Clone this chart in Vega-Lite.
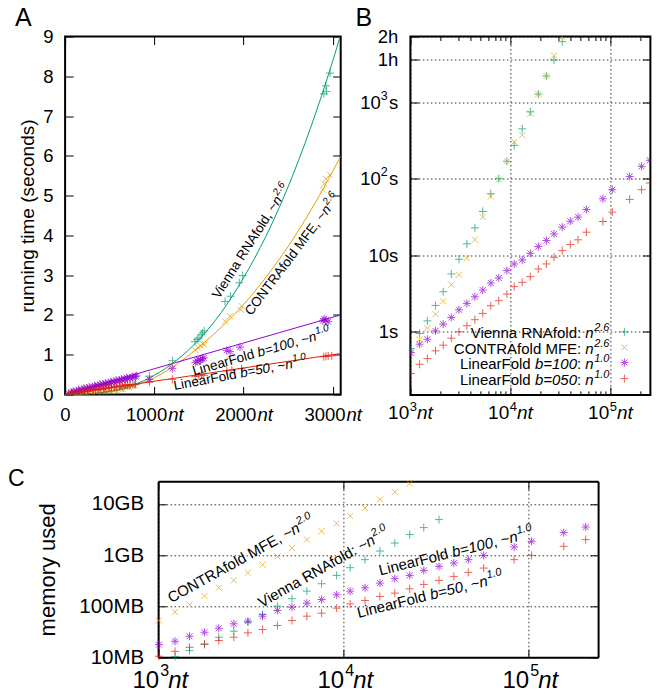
{
"$schema":"https://vega.github.io/schema/vega-lite/v6.json",
"autosize":{"type":"none"},
"padding":{"left":65.1,"top":36.5,"right":597,"bottom":659},
"config":{
 "font":"Liberation Sans",
 "view":{"stroke":"#000","strokeWidth":2},
 "axis":{"domain":false,"ticks":false,"grid":false,"labelColor":"#000","titleColor":"#000","labelFont":"Liberation Sans","titleFont":"Liberation Sans","titleFontWeight":"normal","labelFlush":false,"labelOverlap":false,"labelBound":false,"tickColor":"#000","tickWidth":1,"gridColor":"#000","gridDash":[1.5,2.5],"gridWidth":1,"gridOpacity":0.8,"domainColor":"#000","domainWidth":2},
 "title":{"fontWeight":"normal","color":"#000","font":"Liberation Sans","anchor":"start","frame":"group","baseline":"alphabetic"},
 "text":{"font":"Liberation Sans","color":"#000"},
 "point":{"filled":false,"strokeWidth":1,"size":64},
 "line":{"strokeWidth":1}
},
"columns":2,
"align":"none",
"bounds":"flush",
"spacing":{"row":85.8,"column":69.3},
"concat":[
{
 "width":275.6,"height":358,
 "title":{"text":"A","dx":-50,"offset":-3.5,"fontSize":25},
 "resolve":{"axis":{"x":"independent","y":"independent"}},
 "layer":[
  {"data":{"values":[
   {"s":"V","n":0,"t":0},{"s":"V","n":250,"t":0.013},{"s":"V","n":500,"t":0.079},{"s":"V","n":750,"t":0.228},{"s":"V","n":1000,"t":0.482},{"s":"V","n":1250,"t":0.86},{"s":"V","n":1500,"t":1.38},{"s":"V","n":1750,"t":2.06},{"s":"V","n":2000,"t":2.93},{"s":"V","n":2250,"t":3.97},{"s":"V","n":2500,"t":5.22},{"s":"V","n":2750,"t":6.69},{"s":"V","n":3000,"t":8.38},{"s":"V","n":3090,"t":9.05},
   {"s":"C","n":0,"t":0},{"s":"C","n":250,"t":0.012},{"s":"C","n":500,"t":0.07},{"s":"C","n":750,"t":0.2},{"s":"C","n":1000,"t":0.42},{"s":"C","n":1250,"t":0.76},{"s":"C","n":1500,"t":1.19},{"s":"C","n":1750,"t":1.69},{"s":"C","n":2000,"t":2.26},{"s":"C","n":2250,"t":2.94},{"s":"C","n":2500,"t":3.72},{"s":"C","n":2750,"t":4.61},{"s":"C","n":3000,"t":5.61},{"s":"C","n":3090,"t":5.99},
   {"s":"L100","n":0,"t":0},{"s":"L100","n":3090,"t":2.0},
   {"s":"L50","n":0,"t":0},{"s":"L50","n":3090,"t":1.03}
  ]},
  "mark":{"type":"line","clip":true,"interpolate":"monotone","strokeWidth":1},
  "encoding":{
   "x":{"field":"n","type":"quantitative","scale":{"domain":[0,3090],"nice":false,"zero":false},"axis":{"orient":"bottom","values":[0,1000,2000,3000],"format":"d","labelAlign":"right","labelOffset":{"condition":{"test":"datum.value === 0","value":5},"value":12.4},"labelFontSize":18.5,"labelPadding":11,"title":null}},
   "y":{"field":"t","type":"quantitative","scale":{"domain":[0,9],"nice":false,"zero":false},"axis":{"orient":"left","values":[0,1,2,3,4,5,6,7,8,9],"format":"d","labelFontSize":18.5,"labelPadding":12,"title":"running time (seconds)","titleFontSize":19,"titlePadding":5.8}},
   "color":{"field":"s","type":"nominal","scale":{"domain":["V","C","L100","L50"],"range":["#009e73","#e69f00","#9400d3","#e51e10"]},"legend":null}
  }},
  {"data":{"values":[
   {"s":"V","n":60,"t":0.0},{"s":"V","n":120,"t":0.002},{"s":"V","n":180,"t":0.006},{"s":"V","n":250,"t":0.013},{"s":"V","n":320,"t":0.026},{"s":"V","n":380,"t":0.039},{"s":"V","n":450,"t":0.06},{"s":"V","n":520,"t":0.09},{"s":"V","n":580,"t":0.115},{"s":"V","n":650,"t":0.16},{"s":"V","n":720,"t":0.21},{"s":"V","n":780,"t":0.25},{"s":"V","n":945,"t":0.46},{"s":"V","n":1205,"t":0.85},{"s":"V","n":1455,"t":1.33},{"s":"V","n":1480,"t":1.38},{"s":"V","n":1500,"t":1.42},{"s":"V","n":1525,"t":1.5},{"s":"V","n":1540,"t":1.55},{"s":"V","n":1560,"t":1.6},{"s":"V","n":1793,"t":2.34},{"s":"V","n":1856,"t":2.47},{"s":"V","n":1953,"t":2.81},{"s":"V","n":1991,"t":2.99},{"s":"V","n":2902,"t":7.56},{"s":"V","n":2925,"t":7.76},{"s":"V","n":2930,"t":7.62},{"s":"V","n":2970,"t":8.08},
   {"s":"C","n":60,"t":0.0},{"s":"C","n":120,"t":0.002},{"s":"C","n":180,"t":0.005},{"s":"C","n":250,"t":0.011},{"s":"C","n":320,"t":0.022},{"s":"C","n":380,"t":0.033},{"s":"C","n":450,"t":0.05},{"s":"C","n":520,"t":0.075},{"s":"C","n":580,"t":0.1},{"s":"C","n":650,"t":0.135},{"s":"C","n":720,"t":0.18},{"s":"C","n":780,"t":0.22},{"s":"C","n":945,"t":0.4},{"s":"C","n":1200,"t":0.74},{"s":"C","n":1460,"t":1.12},{"s":"C","n":1490,"t":1.18},{"s":"C","n":1520,"t":1.22},{"s":"C","n":1545,"t":1.28},{"s":"C","n":1560,"t":1.25},{"s":"C","n":1793,"t":1.84},{"s":"C","n":1849,"t":1.97},{"s":"C","n":1970,"t":2.13},{"s":"C","n":1980,"t":2.22},{"s":"C","n":2890,"t":5.15},{"s":"C","n":2905,"t":5.3},{"s":"C","n":2925,"t":5.42},{"s":"C","n":2970,"t":5.52},
   {"s":"L100","n":40,"t":0.03},{"s":"L100","n":70,"t":0.05},{"s":"L100","n":100,"t":0.06},{"s":"L100","n":130,"t":0.08},{"s":"L100","n":160,"t":0.1},{"s":"L100","n":190,"t":0.11},{"s":"L100","n":220,"t":0.13},{"s":"L100","n":250,"t":0.15},{"s":"L100","n":280,"t":0.16},{"s":"L100","n":310,"t":0.18},{"s":"L100","n":340,"t":0.2},{"s":"L100","n":370,"t":0.21},{"s":"L100","n":400,"t":0.23},{"s":"L100","n":430,"t":0.25},{"s":"L100","n":460,"t":0.26},{"s":"L100","n":490,"t":0.28},{"s":"L100","n":520,"t":0.3},{"s":"L100","n":550,"t":0.31},{"s":"L100","n":580,"t":0.33},{"s":"L100","n":610,"t":0.35},{"s":"L100","n":640,"t":0.36},{"s":"L100","n":670,"t":0.38},{"s":"L100","n":700,"t":0.4},{"s":"L100","n":730,"t":0.41},{"s":"L100","n":760,"t":0.43},{"s":"L100","n":790,"t":0.45},
   {"s":"L100","n":90,"t":0.08},{"s":"L100","n":150,"t":0.12},{"s":"L100","n":210,"t":0.16},{"s":"L100","n":270,"t":0.19},{"s":"L100","n":330,"t":0.22},{"s":"L100","n":390,"t":0.26},{"s":"L100","n":450,"t":0.29},{"s":"L100","n":510,"t":0.32},{"s":"L100","n":570,"t":0.36},{"s":"L100","n":630,"t":0.39},{"s":"L100","n":690,"t":0.42},{"s":"L100","n":750,"t":0.45},{"s":"L100","n":800,"t":0.47},
   {"s":"L100","n":945,"t":0.38},{"s":"L100","n":1202,"t":0.65},{"s":"L100","n":1460,"t":0.8},{"s":"L100","n":1480,"t":0.84},{"s":"L100","n":1500,"t":0.87},{"s":"L100","n":1520,"t":0.86},{"s":"L100","n":1540,"t":0.9},{"s":"L100","n":1555,"t":0.92},{"s":"L100","n":1812,"t":1.11},{"s":"L100","n":1850,"t":1.08},{"s":"L100","n":1961,"t":1.19},{"s":"L100","n":2890,"t":1.85},{"s":"L100","n":2905,"t":1.9},{"s":"L100","n":2925,"t":1.87},{"s":"L100","n":2950,"t":1.83},
   {"s":"L50","n":40,"t":0.01},{"s":"L50","n":70,"t":0.02},{"s":"L50","n":100,"t":0.03},{"s":"L50","n":130,"t":0.04},{"s":"L50","n":160,"t":0.05},{"s":"L50","n":190,"t":0.06},{"s":"L50","n":220,"t":0.07},{"s":"L50","n":250,"t":0.08},{"s":"L50","n":280,"t":0.09},{"s":"L50","n":310,"t":0.1},{"s":"L50","n":340,"t":0.11},{"s":"L50","n":370,"t":0.12},{"s":"L50","n":400,"t":0.13},{"s":"L50","n":430,"t":0.14},{"s":"L50","n":460,"t":0.15},{"s":"L50","n":490,"t":0.16},{"s":"L50","n":520,"t":0.17},{"s":"L50","n":550,"t":0.18},{"s":"L50","n":580,"t":0.19},{"s":"L50","n":610,"t":0.2},{"s":"L50","n":640,"t":0.21},{"s":"L50","n":670,"t":0.22},{"s":"L50","n":700,"t":0.23},{"s":"L50","n":730,"t":0.24},{"s":"L50","n":760,"t":0.25},{"s":"L50","n":790,"t":0.26},
   {"s":"L50","n":80,"t":0.04},{"s":"L50","n":140,"t":0.06},{"s":"L50","n":200,"t":0.09},{"s":"L50","n":260,"t":0.11},{"s":"L50","n":320,"t":0.13},{"s":"L50","n":380,"t":0.15},{"s":"L50","n":440,"t":0.17},{"s":"L50","n":500,"t":0.19},{"s":"L50","n":560,"t":0.21},{"s":"L50","n":620,"t":0.23},{"s":"L50","n":680,"t":0.25},
   {"s":"L50","n":945,"t":0.31},{"s":"L50","n":1202,"t":0.38},{"s":"L50","n":1460,"t":0.45},{"s":"L50","n":1500,"t":0.47},{"s":"L50","n":1530,"t":0.5},{"s":"L50","n":1555,"t":0.48},{"s":"L50","n":1812,"t":0.6},{"s":"L50","n":1870,"t":0.61},{"s":"L50","n":1978,"t":0.65},{"s":"L50","n":2900,"t":0.95},{"s":"L50","n":2925,"t":0.96},{"s":"L50","n":2950,"t":0.97},{"s":"L50","n":2990,"t":0.97}
  ]},
  "mark":{"type":"point","clip":true},
  "encoding":{
   "x":{"field":"n","type":"quantitative","scale":{"domain":[0,3090],"nice":false,"zero":false},"axis":null},
   "y":{"field":"t","type":"quantitative","scale":{"domain":[0,9],"nice":false,"zero":false},"axis":null},
   "color":{"field":"s","type":"nominal","scale":{"domain":["V","C","L100","L50"],"range":["#009e73","#e69f00","#9400d3","#e51e10"]},"legend":null},
   "shape":{"field":"s","type":"nominal","scale":{"domain":["V","C","L100","L50"],"range":["M-1,0L1,0M0,-1L0,1","M-0.75,-0.75L0.75,0.75M-0.75,0.75L0.75,-0.75","M-1,0L1,0M0,-1L0,1M-0.75,-0.75L0.75,0.75M-0.75,0.75L0.75,-0.75","M-1,0L1,0M0,-1L0,1"]},"legend":null}
  }},
  {"data":{"values":[]},"mark":"point","encoding":{"x":{"field":"n","type":"quantitative","scale":{"domain":[0,3090],"nice":false,"zero":false},"axis":{"orient":"bottom","values":[1000,2000,3000],"labelExpr":"'nt'","labelAlign":"left","labelOffset":13.4,"labelFontStyle":"italic","labelFontSize":18.5,"labelPadding":11,"title":null}},"y":{"field":"t","type":"quantitative","scale":{"domain":[0,9],"nice":false,"zero":false},"axis":null}}},
  {"data":{"values":[]},"mark":"point","encoding":{"x":{"field":"n","type":"quantitative","scale":{"domain":[0,3090],"nice":false,"zero":false},"axis":{"orient":"bottom","values":[0,1000,2000,3000],"ticks":true,"tickSize":-8,"labels":false,"title":null}},"y":{"field":"t","type":"quantitative","scale":{"domain":[0,9],"nice":false,"zero":false},"axis":null}}},
  {"data":{"values":[]},"mark":"point","encoding":{"x":{"field":"n","type":"quantitative","scale":{"domain":[0,3090],"nice":false,"zero":false},"axis":{"orient":"top","values":[0,1000,2000,3000],"ticks":true,"tickSize":-8,"labels":false,"title":null}},"y":{"field":"t","type":"quantitative","scale":{"domain":[0,9],"nice":false,"zero":false},"axis":null}}},
  {"data":{"values":[]},"mark":"point","encoding":{"y":{"field":"t","type":"quantitative","scale":{"domain":[0,9],"nice":false,"zero":false},"axis":{"orient":"left","values":[0,1,2,3,4,5,6,7,8,9],"ticks":true,"tickSize":-8,"labels":false,"title":null}},"x":{"field":"n","type":"quantitative","scale":{"domain":[0,3090],"nice":false,"zero":false},"axis":null}}},
  {"data":{"values":[]},"mark":"point","encoding":{"y":{"field":"t","type":"quantitative","scale":{"domain":[0,9],"nice":false,"zero":false},"axis":{"orient":"right","values":[0,1,2,3,4,5,6,7,8,9],"ticks":true,"tickSize":-8,"labels":false,"title":null}},"x":{"field":"n","type":"quantitative","scale":{"domain":[0,3090],"nice":false,"zero":false},"axis":null}}},
  {"data":{"values":[{"label":"Vienna RNAfold, ~"}]},"mark":{"type":"text","angle":-57.5,"align":"right","baseline":"alphabetic","fontSize":13.5,"dx":-7.5},"encoding":{"x":{"datum":2439,"type":"quantitative","scale":{"domain":[0,3090],"nice":false,"zero":false},"axis":null},"y":{"datum":4.9,"type":"quantitative","scale":{"domain":[0,9],"nice":false,"zero":false},"axis":null},"text":{"field":"label"}}},
  {"data":{"values":[{"label":"n"}]},"mark":{"type":"text","angle":-57.5,"align":"right","baseline":"alphabetic","fontSize":13.5,"fontStyle":"italic"},"encoding":{"x":{"datum":2439,"type":"quantitative","scale":{"domain":[0,3090],"nice":false,"zero":false},"axis":null},"y":{"datum":4.9,"type":"quantitative","scale":{"domain":[0,9],"nice":false,"zero":false},"axis":null},"text":{"field":"label"}}},
  {"data":{"values":[{"label":"2.6"}]},"mark":{"type":"text","angle":-57.5,"align":"left","baseline":"alphabetic","fontSize":10,"fontStyle":"italic","dx":0.5,"dy":-6},"encoding":{"x":{"datum":2439,"type":"quantitative","scale":{"domain":[0,3090],"nice":false,"zero":false},"axis":null},"y":{"datum":4.9,"type":"quantitative","scale":{"domain":[0,9],"nice":false,"zero":false},"axis":null},"text":{"field":"label"}}},
  {"data":{"values":[{"label":"CONTRAfold MFE, ~"}]},"mark":{"type":"text","angle":-53,"align":"right","baseline":"alphabetic","fontSize":13.5,"dx":-7.5},"encoding":{"x":{"datum":2989,"type":"quantitative","scale":{"domain":[0,3090],"nice":false,"zero":false},"axis":null},"y":{"datum":4.65,"type":"quantitative","scale":{"domain":[0,9],"nice":false,"zero":false},"axis":null},"text":{"field":"label"}}},
  {"data":{"values":[{"label":"n"}]},"mark":{"type":"text","angle":-53,"align":"right","baseline":"alphabetic","fontSize":13.5,"fontStyle":"italic"},"encoding":{"x":{"datum":2989,"type":"quantitative","scale":{"domain":[0,3090],"nice":false,"zero":false},"axis":null},"y":{"datum":4.65,"type":"quantitative","scale":{"domain":[0,9],"nice":false,"zero":false},"axis":null},"text":{"field":"label"}}},
  {"data":{"values":[{"label":"2.6"}]},"mark":{"type":"text","angle":-53,"align":"left","baseline":"alphabetic","fontSize":10,"fontStyle":"italic","dx":0.5,"dy":-6},"encoding":{"x":{"datum":2989,"type":"quantitative","scale":{"domain":[0,3090],"nice":false,"zero":false},"axis":null},"y":{"datum":4.65,"type":"quantitative","scale":{"domain":[0,9],"nice":false,"zero":false},"axis":null},"text":{"field":"label"}}},
  {"data":{"values":[{"label":"LinearFold"}]},"mark":{"type":"text","angle":-16,"align":"right","baseline":"alphabetic","fontSize":13.5,"dx":-64.6},"encoding":{"x":{"datum":2827,"type":"quantitative","scale":{"domain":[0,3090],"nice":false,"zero":false},"axis":null},"y":{"datum":1.364,"type":"quantitative","scale":{"domain":[0,9],"nice":false,"zero":false},"axis":null},"text":{"field":"label"}}},
  {"data":{"values":[{"label":"b=100"}]},"mark":{"type":"text","angle":-16,"align":"right","baseline":"alphabetic","fontSize":13.5,"fontStyle":"italic","dx":-22.9},"encoding":{"x":{"datum":2827,"type":"quantitative","scale":{"domain":[0,3090],"nice":false,"zero":false},"axis":null},"y":{"datum":1.364,"type":"quantitative","scale":{"domain":[0,9],"nice":false,"zero":false},"axis":null},"text":{"field":"label"}}},
  {"data":{"values":[{"label":", ~"}]},"mark":{"type":"text","angle":-16,"align":"right","baseline":"alphabetic","fontSize":13.5,"dx":-7.5},"encoding":{"x":{"datum":2827,"type":"quantitative","scale":{"domain":[0,3090],"nice":false,"zero":false},"axis":null},"y":{"datum":1.364,"type":"quantitative","scale":{"domain":[0,9],"nice":false,"zero":false},"axis":null},"text":{"field":"label"}}},
  {"data":{"values":[{"label":"n"}]},"mark":{"type":"text","angle":-16,"align":"right","baseline":"alphabetic","fontSize":13.5,"fontStyle":"italic"},"encoding":{"x":{"datum":2827,"type":"quantitative","scale":{"domain":[0,3090],"nice":false,"zero":false},"axis":null},"y":{"datum":1.364,"type":"quantitative","scale":{"domain":[0,9],"nice":false,"zero":false},"axis":null},"text":{"field":"label"}}},
  {"data":{"values":[{"label":"1.0"}]},"mark":{"type":"text","angle":-16,"align":"left","baseline":"alphabetic","fontSize":10,"fontStyle":"italic","dx":0.5,"dy":-6},"encoding":{"x":{"datum":2827,"type":"quantitative","scale":{"domain":[0,3090],"nice":false,"zero":false},"axis":null},"y":{"datum":1.364,"type":"quantitative","scale":{"domain":[0,9],"nice":false,"zero":false},"axis":null},"text":{"field":"label"}}},
  {"data":{"values":[{"label":"LinearFold"}]},"mark":{"type":"text","angle":-10.6,"align":"right","baseline":"alphabetic","fontSize":13.5,"dx":-57.1},"encoding":{"x":{"datum":2558,"type":"quantitative","scale":{"domain":[0,3090],"nice":false,"zero":false},"axis":null},"y":{"datum":0.67,"type":"quantitative","scale":{"domain":[0,9],"nice":false,"zero":false},"axis":null},"text":{"field":"label"}}},
  {"data":{"values":[{"label":"b=50"}]},"mark":{"type":"text","angle":-10.6,"align":"right","baseline":"alphabetic","fontSize":13.5,"fontStyle":"italic","dx":-22.9},"encoding":{"x":{"datum":2558,"type":"quantitative","scale":{"domain":[0,3090],"nice":false,"zero":false},"axis":null},"y":{"datum":0.67,"type":"quantitative","scale":{"domain":[0,9],"nice":false,"zero":false},"axis":null},"text":{"field":"label"}}},
  {"data":{"values":[{"label":", ~"}]},"mark":{"type":"text","angle":-10.6,"align":"right","baseline":"alphabetic","fontSize":13.5,"dx":-7.5},"encoding":{"x":{"datum":2558,"type":"quantitative","scale":{"domain":[0,3090],"nice":false,"zero":false},"axis":null},"y":{"datum":0.67,"type":"quantitative","scale":{"domain":[0,9],"nice":false,"zero":false},"axis":null},"text":{"field":"label"}}},
  {"data":{"values":[{"label":"n"}]},"mark":{"type":"text","angle":-10.6,"align":"right","baseline":"alphabetic","fontSize":13.5,"fontStyle":"italic"},"encoding":{"x":{"datum":2558,"type":"quantitative","scale":{"domain":[0,3090],"nice":false,"zero":false},"axis":null},"y":{"datum":0.67,"type":"quantitative","scale":{"domain":[0,9],"nice":false,"zero":false},"axis":null},"text":{"field":"label"}}},
  {"data":{"values":[{"label":"1.0"}]},"mark":{"type":"text","angle":-10.6,"align":"left","baseline":"alphabetic","fontSize":10,"fontStyle":"italic","dx":0.5,"dy":-6},"encoding":{"x":{"datum":2558,"type":"quantitative","scale":{"domain":[0,3090],"nice":false,"zero":false},"axis":null},"y":{"datum":0.67,"type":"quantitative","scale":{"domain":[0,9],"nice":false,"zero":false},"axis":null},"text":{"field":"label"}}}
 ]
},
{
 "width":240,"height":358.4,
 "title":{"text":"B","dx":-55,"offset":-3.5,"fontSize":25},
 "resolve":{"axis":{"x":"independent","y":"independent"}},
 "layer":[
  {"data":{"values":[
   {"s":"V","n":1010,"t":0.605},{"s":"V","n":1235,"t":0.95},{"s":"V","n":1478,"t":1.39},{"s":"V","n":1782,"t":2.21},{"s":"V","n":2128,"t":3.34},{"s":"V","n":2566,"t":5.7},{"s":"V","n":3059,"t":8.87},{"s":"V","n":3670,"t":14.1},{"s":"V","n":4414,"t":22.8},{"s":"V","n":5292,"t":37.3},{"s":"V","n":6371,"t":63.6},{"s":"V","n":7651,"t":100},{"s":"V","n":9230,"t":169},{"s":"V","n":10920,"t":271},{"s":"V","n":13135,"t":448},{"s":"V","n":15810,"t":747},{"s":"V","n":19030,"t":1273},{"s":"V","n":22910,"t":2191},{"s":"V","n":27295,"t":3550},{"s":"V","n":32990,"t":6170},
   {"s":"C","n":1010,"t":0.52},{"s":"C","n":1235,"t":0.8},{"s":"C","n":1478,"t":1.12},{"s":"C","n":1782,"t":1.7},{"s":"C","n":2128,"t":2.5},{"s":"C","n":2566,"t":4.13},{"s":"C","n":3059,"t":5.58},{"s":"C","n":3670,"t":9.14},{"s":"C","n":4414,"t":16.0},{"s":"C","n":5292,"t":31.5},{"s":"C","n":6371,"t":58.7},{"s":"C","n":7651,"t":98},{"s":"C","n":9230,"t":169},{"s":"C","n":10920,"t":302},{"s":"C","n":13135,"t":370},{"s":"C","n":15810,"t":711},{"s":"C","n":19030,"t":1273},{"s":"C","n":22910,"t":2191},{"s":"C","n":27295,"t":4045},{"s":"C","n":32990,"t":7150},
   {"s":"L100","n":1010,"t":0.536},{"s":"L100","n":1235,"t":0.69},{"s":"L100","n":1478,"t":0.8},{"s":"L100","n":1782,"t":1.03},{"s":"L100","n":2128,"t":1.26},{"s":"L100","n":2566,"t":1.54},{"s":"L100","n":3059,"t":1.94},{"s":"L100","n":3670,"t":2.35},{"s":"L100","n":4414,"t":2.87},{"s":"L100","n":5292,"t":3.51},{"s":"L100","n":6371,"t":4.34},{"s":"L100","n":7651,"t":5.05},{"s":"L100","n":9230,"t":6.3},{"s":"L100","n":10920,"t":7.7},{"s":"L100","n":13135,"t":8.69},{"s":"L100","n":15810,"t":10.6},{"s":"L100","n":19030,"t":13.0},{"s":"L100","n":22910,"t":15.6},{"s":"L100","n":27295,"t":19.0},{"s":"L100","n":32990,"t":23.3},{"s":"L100","n":39710,"t":27.9},{"s":"L100","n":47515,"t":31.5},{"s":"L100","n":57540,"t":39.6},{"s":"L100","n":84045,"t":54.7},{"s":"L100","n":104450,"t":71.8},{"s":"L100","n":155850,"t":107},{"s":"L100","n":204850,"t":145},{"s":"L100","n":247300,"t":174},
   {"s":"L50","n":1010,"t":0.285},{"s":"L50","n":1235,"t":0.377},{"s":"L50","n":1478,"t":0.447},{"s":"L50","n":1782,"t":0.564},{"s":"L50","n":2128,"t":0.669},{"s":"L50","n":2566,"t":0.826},{"s":"L50","n":3059,"t":1.0},{"s":"L50","n":3670,"t":1.2},{"s":"L50","n":4414,"t":1.44},{"s":"L50","n":5292,"t":1.74},{"s":"L50","n":6371,"t":2.19},{"s":"L50","n":7651,"t":2.55},{"s":"L50","n":9230,"t":3.11},{"s":"L50","n":10920,"t":3.89},{"s":"L50","n":13135,"t":4.43},{"s":"L50","n":15810,"t":5.26},{"s":"L50","n":19030,"t":6.62},{"s":"L50","n":22910,"t":7.7},{"s":"L50","n":27295,"t":9.41},{"s":"L50","n":32990,"t":11.5},{"s":"L50","n":39710,"t":13.8},{"s":"L50","n":47515,"t":15.9},{"s":"L50","n":57540,"t":20.0},{"s":"L50","n":84045,"t":27.6},{"s":"L50","n":104450,"t":36.6},{"s":"L50","n":155850,"t":53.6},{"s":"L50","n":204850,"t":71.8},{"s":"L50","n":247300,"t":87.7}
  ]},
  "mark":{"type":"point","clip":true},
  "encoding":{
   "x":{"field":"n","type":"quantitative","scale":{"type":"log","domain":[1000,251189],"nice":false},"axis":{"orient":"bottom","values":[1000,10000,100000],"labelExpr":"'10'","labelAlign":"right","labelOffset":-1.7,"labelFontSize":19,"labelPadding":9,"title":null,"grid":true}},
   "y":{"field":"t","type":"quantitative","scale":{"type":"log","domain":[0.15,7200],"nice":false},"axis":{"orient":"left","values":[1,10,100,1000,3600,7200],"labelExpr":"datum.value === 1 ? '1s' : datum.value === 10 ? '10s' : datum.value === 3600 ? '1h' : datum.value === 7200 ? '2h' : 's'","labelFontSize":18.5,"labelPadding":12.7,"title":null,"grid":true}},
   "color":{"field":"s","type":"nominal","scale":{"domain":["V","C","L100","L50"],"range":["#009e73","#e69f00","#9400d3","#e51e10"]},"legend":null},
   "shape":{"field":"s","type":"nominal","scale":{"domain":["V","C","L100","L50"],"range":["M-1,0L1,0M0,-1L0,1","M-0.75,-0.75L0.75,0.75M-0.75,0.75L0.75,-0.75","M-1,0L1,0M0,-1L0,1M-0.75,-0.75L0.75,0.75M-0.75,0.75L0.75,-0.75","M-1,0L1,0M0,-1L0,1"]},"legend":null}
  }},
  {"data":{"values":[]},"mark":"point","encoding":{"x":{"field":"n","type":"quantitative","scale":{"type":"log","domain":[1000,251189],"nice":false},"axis":{"orient":"bottom","values":[1000,10000,100000],"labelExpr":"datum.value === 1000 ? '3' : datum.value === 10000 ? '4' : '5'","labelAlign":"left","labelOffset":-1.2,"labelFontSize":13,"labelPadding":6,"title":null}},"y":{"field":"t","type":"quantitative","scale":{"type":"log","domain":[0.15,7200],"nice":false},"axis":null}}},
  {"data":{"values":[]},"mark":"point","encoding":{"x":{"field":"n","type":"quantitative","scale":{"type":"log","domain":[1000,251189],"nice":false},"axis":{"orient":"bottom","values":[1000,10000,100000],"labelExpr":"'nt'","labelAlign":"left","labelOffset":6,"labelFontStyle":"italic","labelFontSize":19,"labelPadding":9,"title":null}},"y":{"field":"t","type":"quantitative","scale":{"type":"log","domain":[0.15,7200],"nice":false},"axis":null}}},
  {"data":{"values":[]},"mark":"point","encoding":{"x":{"field":"n","type":"quantitative","scale":{"type":"log","domain":[1000,251189],"nice":false},"axis":{"orient":"bottom","values":[1000,2000,3000,4000,5000,6000,7000,8000,9000,10000,20000,30000,40000,50000,60000,70000,80000,90000,100000,200000],"ticks":true,"tickSize":{"condition":{"test":"datum.value === 1000 || datum.value === 10000 || datum.value === 100000","value":-8},"value":-4},"labels":false,"title":null}},"y":{"field":"t","type":"quantitative","scale":{"type":"log","domain":[0.15,7200],"nice":false},"axis":null}}},
  {"data":{"values":[]},"mark":"point","encoding":{"x":{"field":"n","type":"quantitative","scale":{"type":"log","domain":[1000,251189],"nice":false},"axis":{"orient":"top","values":[1000,2000,3000,4000,5000,6000,7000,8000,9000,10000,20000,30000,40000,50000,60000,70000,80000,90000,100000,200000],"ticks":true,"tickSize":{"condition":{"test":"datum.value === 1000 || datum.value === 10000 || datum.value === 100000","value":-8},"value":-4},"labels":false,"title":null}},"y":{"field":"t","type":"quantitative","scale":{"type":"log","domain":[0.15,7200],"nice":false},"axis":null}}},
  {"data":{"values":[]},"mark":"point","encoding":{"y":{"field":"t","type":"quantitative","scale":{"type":"log","domain":[0.15,7200],"nice":false},"axis":{"orient":"left","values":[1,10,100,1000,3600,7200],"ticks":true,"tickSize":-8,"labels":false,"title":null}},"x":{"field":"n","type":"quantitative","scale":{"type":"log","domain":[1000,251189],"nice":false},"axis":null}}},
  {"data":{"values":[]},"mark":"point","encoding":{"y":{"field":"t","type":"quantitative","scale":{"type":"log","domain":[0.15,7200],"nice":false},"axis":{"orient":"right","values":[1,10,100,1000,3600,7200],"ticks":true,"tickSize":-8,"labels":false,"title":null}},"x":{"field":"n","type":"quantitative","scale":{"type":"log","domain":[1000,251189],"nice":false},"axis":null}}},
  {"data":{"values":[]},"mark":"point","encoding":{"y":{"field":"t","type":"quantitative","scale":{"type":"log","domain":[0.15,7200],"nice":false},"axis":{"orient":"left","values":[100,1000],"labelExpr":"datum.value === 100 ? '2' : '3'","labelFontSize":12.5,"labelPadding":23.3,"labelOffset":-7,"title":null}},"x":{"field":"n","type":"quantitative","scale":{"type":"log","domain":[1000,251189],"nice":false},"axis":null}}},
  {"data":{"values":[]},"mark":"point","encoding":{"y":{"field":"t","type":"quantitative","scale":{"type":"log","domain":[0.15,7200],"nice":false},"axis":{"orient":"left","values":[100,1000],"labelExpr":"'10'","labelFontSize":18.5,"labelPadding":30,"title":null}},"x":{"field":"n","type":"quantitative","scale":{"type":"log","domain":[1000,251189],"nice":false},"axis":null}}},
  {"data":{"values":[{}]},"mark":{"type":"point","shape":"M-1,0L1,0M0,-1L0,1","color":"#009e73"},"encoding":{"x":{"datum":138000,"type":"quantitative","scale":{"type":"log","domain":[1000,251189],"nice":false},"axis":null},"y":{"datum":1.0,"type":"quantitative","scale":{"type":"log","domain":[0.15,7200],"nice":false},"axis":null}}},
  {"data":{"values":[{}]},"mark":{"type":"point","shape":"M-0.75,-0.75L0.75,0.75M-0.75,0.75L0.75,-0.75","color":"#e69f00"},"encoding":{"x":{"datum":138000,"type":"quantitative","scale":{"type":"log","domain":[1000,251189],"nice":false},"axis":null},"y":{"datum":0.6235,"type":"quantitative","scale":{"type":"log","domain":[0.15,7200],"nice":false},"axis":null}}},
  {"data":{"values":[{}]},"mark":{"type":"point","shape":"M-1,0L1,0M0,-1L0,1M-0.75,-0.75L0.75,0.75M-0.75,0.75L0.75,-0.75","color":"#9400d3"},"encoding":{"x":{"datum":138000,"type":"quantitative","scale":{"type":"log","domain":[1000,251189],"nice":false},"axis":null},"y":{"datum":0.397,"type":"quantitative","scale":{"type":"log","domain":[0.15,7200],"nice":false},"axis":null}}},
  {"data":{"values":[{}]},"mark":{"type":"point","shape":"M-1,0L1,0M0,-1L0,1","color":"#e51e10"},"encoding":{"x":{"datum":138000,"type":"quantitative","scale":{"type":"log","domain":[1000,251189],"nice":false},"axis":null},"y":{"datum":0.245,"type":"quantitative","scale":{"type":"log","domain":[0.15,7200],"nice":false},"axis":null}}},
  {"data":{"values":[{"label":"Vienna RNAfold:"}]},"mark":{"type":"text","align":"right","baseline":"alphabetic","fontSize":15,"dx":-12.5},"encoding":{"x":{"datum":68080,"type":"quantitative","scale":{"type":"log","domain":[1000,251189],"nice":false},"axis":null},"y":{"datum":0.827,"type":"quantitative","scale":{"type":"log","domain":[0.15,7200],"nice":false},"axis":null},"text":{"field":"label"}}},
  {"data":{"values":[{"label":"n"}]},"mark":{"type":"text","align":"right","baseline":"alphabetic","fontSize":15,"fontStyle":"italic"},"encoding":{"x":{"datum":68080,"type":"quantitative","scale":{"type":"log","domain":[1000,251189],"nice":false},"axis":null},"y":{"datum":0.827,"type":"quantitative","scale":{"type":"log","domain":[0.15,7200],"nice":false},"axis":null},"text":{"field":"label"}}},
  {"data":{"values":[{"label":"2.6"}]},"mark":{"type":"text","align":"left","baseline":"alphabetic","fontSize":11,"fontStyle":"italic","dx":0.5,"dy":-7},"encoding":{"x":{"datum":68080,"type":"quantitative","scale":{"type":"log","domain":[1000,251189],"nice":false},"axis":null},"y":{"datum":0.827,"type":"quantitative","scale":{"type":"log","domain":[0.15,7200],"nice":false},"axis":null},"text":{"field":"label"}}},
  {"data":{"values":[{"label":"CONTRAfold MFE:"}]},"mark":{"type":"text","align":"right","baseline":"alphabetic","fontSize":15,"dx":-12.5},"encoding":{"x":{"datum":68080,"type":"quantitative","scale":{"type":"log","domain":[1000,251189],"nice":false},"axis":null},"y":{"datum":0.511,"type":"quantitative","scale":{"type":"log","domain":[0.15,7200],"nice":false},"axis":null},"text":{"field":"label"}}},
  {"data":{"values":[{"label":"n"}]},"mark":{"type":"text","align":"right","baseline":"alphabetic","fontSize":15,"fontStyle":"italic"},"encoding":{"x":{"datum":68080,"type":"quantitative","scale":{"type":"log","domain":[1000,251189],"nice":false},"axis":null},"y":{"datum":0.511,"type":"quantitative","scale":{"type":"log","domain":[0.15,7200],"nice":false},"axis":null},"text":{"field":"label"}}},
  {"data":{"values":[{"label":"2.6"}]},"mark":{"type":"text","align":"left","baseline":"alphabetic","fontSize":11,"fontStyle":"italic","dx":0.5,"dy":-7},"encoding":{"x":{"datum":68080,"type":"quantitative","scale":{"type":"log","domain":[1000,251189],"nice":false},"axis":null},"y":{"datum":0.511,"type":"quantitative","scale":{"type":"log","domain":[0.15,7200],"nice":false},"axis":null},"text":{"field":"label"}}},
  {"data":{"values":[{"label":"LinearFold"}]},"mark":{"type":"text","align":"right","baseline":"alphabetic","fontSize":15,"dx":-63},"encoding":{"x":{"datum":68080,"type":"quantitative","scale":{"type":"log","domain":[1000,251189],"nice":false},"axis":null},"y":{"datum":0.3254,"type":"quantitative","scale":{"type":"log","domain":[0.15,7200],"nice":false},"axis":null},"text":{"field":"label"}}},
  {"data":{"values":[{"label":"b=100"}]},"mark":{"type":"text","align":"right","baseline":"alphabetic","fontSize":15,"fontStyle":"italic","dx":-16.7},"encoding":{"x":{"datum":68080,"type":"quantitative","scale":{"type":"log","domain":[1000,251189],"nice":false},"axis":null},"y":{"datum":0.3254,"type":"quantitative","scale":{"type":"log","domain":[0.15,7200],"nice":false},"axis":null},"text":{"field":"label"}}},
  {"data":{"values":[{"label":":"}]},"mark":{"type":"text","align":"right","baseline":"alphabetic","fontSize":15,"dx":-12.5},"encoding":{"x":{"datum":68080,"type":"quantitative","scale":{"type":"log","domain":[1000,251189],"nice":false},"axis":null},"y":{"datum":0.3254,"type":"quantitative","scale":{"type":"log","domain":[0.15,7200],"nice":false},"axis":null},"text":{"field":"label"}}},
  {"data":{"values":[{"label":"n"}]},"mark":{"type":"text","align":"right","baseline":"alphabetic","fontSize":15,"fontStyle":"italic"},"encoding":{"x":{"datum":68080,"type":"quantitative","scale":{"type":"log","domain":[1000,251189],"nice":false},"axis":null},"y":{"datum":0.3254,"type":"quantitative","scale":{"type":"log","domain":[0.15,7200],"nice":false},"axis":null},"text":{"field":"label"}}},
  {"data":{"values":[{"label":"1.0"}]},"mark":{"type":"text","align":"left","baseline":"alphabetic","fontSize":11,"fontStyle":"italic","dx":0.5,"dy":-7},"encoding":{"x":{"datum":68080,"type":"quantitative","scale":{"type":"log","domain":[1000,251189],"nice":false},"axis":null},"y":{"datum":0.3254,"type":"quantitative","scale":{"type":"log","domain":[0.15,7200],"nice":false},"axis":null},"text":{"field":"label"}}},
  {"data":{"values":[{"label":"LinearFold"}]},"mark":{"type":"text","align":"right","baseline":"alphabetic","fontSize":15,"dx":-63},"encoding":{"x":{"datum":68080,"type":"quantitative","scale":{"type":"log","domain":[1000,251189],"nice":false},"axis":null},"y":{"datum":0.2028,"type":"quantitative","scale":{"type":"log","domain":[0.15,7200],"nice":false},"axis":null},"text":{"field":"label"}}},
  {"data":{"values":[{"label":"b=050"}]},"mark":{"type":"text","align":"right","baseline":"alphabetic","fontSize":15,"fontStyle":"italic","dx":-16.7},"encoding":{"x":{"datum":68080,"type":"quantitative","scale":{"type":"log","domain":[1000,251189],"nice":false},"axis":null},"y":{"datum":0.2028,"type":"quantitative","scale":{"type":"log","domain":[0.15,7200],"nice":false},"axis":null},"text":{"field":"label"}}},
  {"data":{"values":[{"label":":"}]},"mark":{"type":"text","align":"right","baseline":"alphabetic","fontSize":15,"dx":-12.5},"encoding":{"x":{"datum":68080,"type":"quantitative","scale":{"type":"log","domain":[1000,251189],"nice":false},"axis":null},"y":{"datum":0.2028,"type":"quantitative","scale":{"type":"log","domain":[0.15,7200],"nice":false},"axis":null},"text":{"field":"label"}}},
  {"data":{"values":[{"label":"n"}]},"mark":{"type":"text","align":"right","baseline":"alphabetic","fontSize":15,"fontStyle":"italic"},"encoding":{"x":{"datum":68080,"type":"quantitative","scale":{"type":"log","domain":[1000,251189],"nice":false},"axis":null},"y":{"datum":0.2028,"type":"quantitative","scale":{"type":"log","domain":[0.15,7200],"nice":false},"axis":null},"text":{"field":"label"}}},
  {"data":{"values":[{"label":"1.0"}]},"mark":{"type":"text","align":"left","baseline":"alphabetic","fontSize":11,"fontStyle":"italic","dx":0.5,"dy":-7},"encoding":{"x":{"datum":68080,"type":"quantitative","scale":{"type":"log","domain":[1000,251189],"nice":false},"axis":null},"y":{"datum":0.2028,"type":"quantitative","scale":{"type":"log","domain":[0.15,7200],"nice":false},"axis":null},"text":{"field":"label"}}}
 ]
},
{"width":23.3,"height":175,"data":{"values":[]},"mark":"point","view":{"stroke":null}},
{
 "width":187.7,"height":176,
 "view":{"stroke":null},
 "title":{"text":"C","dx":-402.3,"offset":-12.8,"fontSize":23},
 "resolve":{"axis":{"x":"independent","y":"independent"}},
 "layer":[
  {"data":{"values":[
   {"s":"C","n":1010,"m":52.4},{"s":"C","n":1235,"m":76.3},{"s":"C","n":1478,"m":108},{"s":"C","n":1782,"m":157},{"s":"C","n":2128,"m":229},{"s":"C","n":2566,"m":319},{"s":"C","n":3059,"m":452},{"s":"C","n":3670,"m":648},{"s":"C","n":4414,"m":943},{"s":"C","n":5292,"m":1372},{"s":"C","n":6371,"m":2004},{"s":"C","n":7651,"m":2916},{"s":"C","n":9230,"m":4130},{"s":"C","n":10920,"m":5821},{"s":"C","n":13135,"m":8350},{"s":"C","n":15810,"m":12190},{"s":"C","n":19030,"m":17180},{"s":"C","n":22910,"m":25120},
   {"s":"V","n":1235,"m":10.4},{"s":"V","n":1478,"m":13.5},{"s":"V","n":1782,"m":17.7},{"s":"V","n":2128,"m":24.7},{"s":"V","n":2566,"m":32.4},{"s":"V","n":3059,"m":48.6},{"s":"V","n":3670,"m":68.7},{"s":"V","n":4414,"m":100},{"s":"V","n":5292,"m":140},{"s":"V","n":6371,"m":197},{"s":"V","n":7651,"m":275},{"s":"V","n":9230,"m":400},{"s":"V","n":10920,"m":566},{"s":"V","n":13135,"m":813},{"s":"V","n":15810,"m":1197},{"s":"V","n":19030,"m":1718},{"s":"V","n":22910,"m":2512},{"s":"V","n":27295,"m":3444},{"s":"V","n":32990,"m":4943},
   {"s":"L100","n":1010,"m":17.7},{"s":"L100","n":1235,"m":20.6},{"s":"L100","n":1478,"m":25.8},{"s":"L100","n":1782,"m":30.9},{"s":"L100","n":2128,"m":37.1},{"s":"L100","n":2566,"m":45.2},{"s":"L100","n":3059,"m":50.8},{"s":"L100","n":3670,"m":63.7},{"s":"L100","n":4414,"m":82.4},{"s":"L100","n":5292,"m":95.6},{"s":"L100","n":6371,"m":114.5},{"s":"L100","n":7651,"m":135},{"s":"L100","n":9230,"m":167},{"s":"L100","n":10920,"m":197},{"s":"L100","n":13135,"m":229},{"s":"L100","n":15810,"m":283},{"s":"L100","n":19030,"m":345},{"s":"L100","n":22910,"m":400},{"s":"L100","n":27295,"m":501},{"s":"L100","n":32990,"m":600},{"s":"L100","n":39710,"m":697},{"s":"L100","n":47515,"m":813},{"s":"L100","n":57540,"m":986},{"s":"L100","n":84045,"m":1436},{"s":"L100","n":104450,"m":1857},{"s":"L100","n":155850,"m":2749},{"s":"L100","n":204850,"m":3540},
   {"s":"L50","n":1010,"m":10.5},{"s":"L50","n":1235,"m":13.1},{"s":"L50","n":1478,"m":15.7},{"s":"L50","n":1782,"m":18.3},{"s":"L50","n":2128,"m":21.3},{"s":"L50","n":2566,"m":24.7},{"s":"L50","n":3059,"m":30.1},{"s":"L50","n":3670,"m":34.9},{"s":"L50","n":4414,"m":41.9},{"s":"L50","n":5292,"m":52.5},{"s":"L50","n":6371,"m":63.7},{"s":"L50","n":7651,"m":72.9},{"s":"L50","n":9230,"m":91.4},{"s":"L50","n":10920,"m":111},{"s":"L50","n":13135,"m":129},{"s":"L50","n":15810,"m":155},{"s":"L50","n":19030,"m":180},{"s":"L50","n":22910,"m":219},{"s":"L50","n":27295,"m":266},{"s":"L50","n":32990,"m":319},{"s":"L50","n":39710,"m":382},{"s":"L50","n":47515,"m":458},{"s":"L50","n":57540,"m":556},{"s":"L50","n":84045,"m":813},{"s":"L50","n":104450,"m":986},{"s":"L50","n":155850,"m":1482},{"s":"L50","n":204850,"m":2004}
  ]},
  "mark":{"type":"point","clip":false},
  "encoding":{
   "x":{"field":"n","type":"quantitative","scale":{"type":"log","domain":[1000,239000],"nice":false,"range":[-252.3,187.7]},"axis":{"orient":"bottom","values":[1000,10000,100000],"labelExpr":"'10'","labelAlign":"right","labelOffset":0.6,"labelFontSize":24,"labelPadding":11.5,"title":null,"grid":true}},
   "y":{"field":"m","type":"quantitative","scale":{"type":"log","domain":[10,27700],"nice":false},"axis":{"orient":"left","offset":252.3,"values":[10,100,1000,10000],"labelExpr":"datum.value === 10 ? '10MB' : datum.value === 100 ? '100MB' : datum.value === 1000 ? '1GB' : '10GB'","labelFontSize":20.5,"labelPadding":14.4,"title":"memory used","titleFontSize":22,"titlePadding":19,"grid":true}},
   "color":{"field":"s","type":"nominal","scale":{"domain":["V","C","L100","L50"],"range":["#009e73","#e69f00","#9400d3","#e51e10"]},"legend":null},
   "shape":{"field":"s","type":"nominal","scale":{"domain":["V","C","L100","L50"],"range":["M-1,0L1,0M0,-1L0,1","M-0.75,-0.75L0.75,0.75M-0.75,0.75L0.75,-0.75","M-1,0L1,0M0,-1L0,1M-0.75,-0.75L0.75,0.75M-0.75,0.75L0.75,-0.75","M-1,0L1,0M0,-1L0,1"]},"legend":null}
  }},
  {"data":{"values":[]},"mark":"point","encoding":{"x":{"field":"n","type":"quantitative","scale":{"type":"log","domain":[1000,239000],"nice":false,"range":[-252.3,187.7]},"axis":{"orient":"bottom","values":[1000,10000,100000],"labelExpr":"datum.value === 1000 ? '3' : datum.value === 10000 ? '4' : '5'","labelAlign":"left","labelOffset":1.6,"labelFontSize":16,"labelPadding":4.8,"title":null}},"y":{"field":"m","type":"quantitative","scale":{"type":"log","domain":[10,27700],"nice":false},"axis":null}}},
  {"data":{"values":[]},"mark":"point","encoding":{"x":{"field":"n","type":"quantitative","scale":{"type":"log","domain":[1000,239000],"nice":false,"range":[-252.3,187.7]},"axis":{"orient":"bottom","values":[1000,10000,100000],"labelExpr":"'nt'","labelAlign":"left","labelOffset":9.6,"labelFontStyle":"italic","labelFontSize":24,"labelPadding":11.5,"title":null}},"y":{"field":"m","type":"quantitative","scale":{"type":"log","domain":[10,27700],"nice":false},"axis":null}}},
  {"data":{"values":[]},"mark":"point","encoding":{"x":{"field":"n","type":"quantitative","scale":{"type":"log","domain":[1000,239000],"nice":false,"range":[-252.3,187.7]},"axis":{"orient":"bottom","values":[1000,10000,100000],"ticks":true,"tickSize":-8,"labels":false,"domain":true,"title":null}},"y":{"field":"m","type":"quantitative","scale":{"type":"log","domain":[10,27700],"nice":false},"axis":null}}},
  {"data":{"values":[]},"mark":"point","encoding":{"x":{"field":"n","type":"quantitative","scale":{"type":"log","domain":[1000,239000],"nice":false,"range":[-252.3,187.7]},"axis":{"orient":"top","values":[1000,10000,100000],"ticks":true,"tickSize":-8,"labels":false,"domain":true,"title":null}},"y":{"field":"m","type":"quantitative","scale":{"type":"log","domain":[10,27700],"nice":false},"axis":null}}},
  {"data":{"values":[]},"mark":"point","encoding":{"y":{"field":"m","type":"quantitative","scale":{"type":"log","domain":[10,27700],"nice":false},"axis":{"orient":"left","offset":252.3,"values":[10,100,1000,10000],"ticks":true,"tickSize":-8,"labels":false,"domain":true,"title":null}},"x":{"field":"n","type":"quantitative","scale":{"type":"log","domain":[1000,239000],"nice":false,"range":[-252.3,187.7]},"axis":null}}},
  {"data":{"values":[]},"mark":"point","encoding":{"y":{"field":"m","type":"quantitative","scale":{"type":"log","domain":[10,27700],"nice":false},"axis":{"orient":"right","values":[10,100,1000,10000],"ticks":true,"tickSize":-8,"labels":false,"domain":true,"title":null}},"x":{"field":"n","type":"quantitative","scale":{"type":"log","domain":[1000,239000],"nice":false,"range":[-252.3,187.7]},"axis":null}}},
  {"data":{"values":[{"label":"CONTRAfold MFE, ~"}]},"mark":{"type":"text","angle":-29,"align":"right","baseline":"alphabetic","fontSize":15,"dx":-8.3},"encoding":{"x":{"datum":5929,"type":"quantitative","scale":{"type":"log","domain":[1000,239000],"nice":false,"range":[-252.3,187.7]},"axis":null},"y":{"datum":2917,"type":"quantitative","scale":{"type":"log","domain":[10,27700],"nice":false},"axis":null},"text":{"field":"label"}}},
  {"data":{"values":[{"label":"n"}]},"mark":{"type":"text","angle":-29,"align":"right","baseline":"alphabetic","fontSize":15,"fontStyle":"italic"},"encoding":{"x":{"datum":5929,"type":"quantitative","scale":{"type":"log","domain":[1000,239000],"nice":false,"range":[-252.3,187.7]},"axis":null},"y":{"datum":2917,"type":"quantitative","scale":{"type":"log","domain":[10,27700],"nice":false},"axis":null},"text":{"field":"label"}}},
  {"data":{"values":[{"label":"2.0"}]},"mark":{"type":"text","angle":-29,"align":"left","baseline":"alphabetic","fontSize":11,"fontStyle":"italic","dx":0.5,"dy":-7},"encoding":{"x":{"datum":5929,"type":"quantitative","scale":{"type":"log","domain":[1000,239000],"nice":false,"range":[-252.3,187.7]},"axis":null},"y":{"datum":2917,"type":"quantitative","scale":{"type":"log","domain":[10,27700],"nice":false},"axis":null},"text":{"field":"label"}}},
  {"data":{"values":[{"label":"Vienna RNAfold: ~"}]},"mark":{"type":"text","angle":-29.5,"align":"right","baseline":"alphabetic","fontSize":15,"dx":-8.3},"encoding":{"x":{"datum":15130,"type":"quantitative","scale":{"type":"log","domain":[1000,239000],"nice":false,"range":[-252.3,187.7]},"axis":null},"y":{"datum":1718,"type":"quantitative","scale":{"type":"log","domain":[10,27700],"nice":false},"axis":null},"text":{"field":"label"}}},
  {"data":{"values":[{"label":"n"}]},"mark":{"type":"text","angle":-29.5,"align":"right","baseline":"alphabetic","fontSize":15,"fontStyle":"italic"},"encoding":{"x":{"datum":15130,"type":"quantitative","scale":{"type":"log","domain":[1000,239000],"nice":false,"range":[-252.3,187.7]},"axis":null},"y":{"datum":1718,"type":"quantitative","scale":{"type":"log","domain":[10,27700],"nice":false},"axis":null},"text":{"field":"label"}}},
  {"data":{"values":[{"label":"2.0"}]},"mark":{"type":"text","angle":-29.5,"align":"left","baseline":"alphabetic","fontSize":11,"fontStyle":"italic","dx":0.5,"dy":-7},"encoding":{"x":{"datum":15130,"type":"quantitative","scale":{"type":"log","domain":[1000,239000],"nice":false,"range":[-252.3,187.7]},"axis":null},"y":{"datum":1718,"type":"quantitative","scale":{"type":"log","domain":[10,27700],"nice":false},"axis":null},"text":{"field":"label"}}},
  {"data":{"values":[{"label":"LinearFold"}]},"mark":{"type":"text","angle":-14,"align":"right","baseline":"alphabetic","fontSize":15,"dx":-71.7},"encoding":{"x":{"datum":88890,"type":"quantitative","scale":{"type":"log","domain":[1000,239000],"nice":false,"range":[-252.3,187.7]},"axis":null},"y":{"datum":1884,"type":"quantitative","scale":{"type":"log","domain":[10,27700],"nice":false},"axis":null},"text":{"field":"label"}}},
  {"data":{"values":[{"label":"b=100"}]},"mark":{"type":"text","angle":-14,"align":"right","baseline":"alphabetic","fontSize":15,"fontStyle":"italic","dx":-25.4},"encoding":{"x":{"datum":88890,"type":"quantitative","scale":{"type":"log","domain":[1000,239000],"nice":false,"range":[-252.3,187.7]},"axis":null},"y":{"datum":1884,"type":"quantitative","scale":{"type":"log","domain":[10,27700],"nice":false},"axis":null},"text":{"field":"label"}}},
  {"data":{"values":[{"label":", ~"}]},"mark":{"type":"text","angle":-14,"align":"right","baseline":"alphabetic","fontSize":15,"dx":-8.3},"encoding":{"x":{"datum":88890,"type":"quantitative","scale":{"type":"log","domain":[1000,239000],"nice":false,"range":[-252.3,187.7]},"axis":null},"y":{"datum":1884,"type":"quantitative","scale":{"type":"log","domain":[10,27700],"nice":false},"axis":null},"text":{"field":"label"}}},
  {"data":{"values":[{"label":"n"}]},"mark":{"type":"text","angle":-14,"align":"right","baseline":"alphabetic","fontSize":15,"fontStyle":"italic"},"encoding":{"x":{"datum":88890,"type":"quantitative","scale":{"type":"log","domain":[1000,239000],"nice":false,"range":[-252.3,187.7]},"axis":null},"y":{"datum":1884,"type":"quantitative","scale":{"type":"log","domain":[10,27700],"nice":false},"axis":null},"text":{"field":"label"}}},
  {"data":{"values":[{"label":"1.0"}]},"mark":{"type":"text","angle":-14,"align":"left","baseline":"alphabetic","fontSize":11,"fontStyle":"italic","dx":0.5,"dy":-7},"encoding":{"x":{"datum":88890,"type":"quantitative","scale":{"type":"log","domain":[1000,239000],"nice":false,"range":[-252.3,187.7]},"axis":null},"y":{"datum":1884,"type":"quantitative","scale":{"type":"log","domain":[10,27700],"nice":false},"axis":null},"text":{"field":"label"}}},
  {"data":{"values":[{"label":"LinearFold"}]},"mark":{"type":"text","angle":-14,"align":"right","baseline":"alphabetic","fontSize":15,"dx":-63.4},"encoding":{"x":{"datum":61220,"type":"quantitative","scale":{"type":"log","domain":[1000,239000],"nice":false,"range":[-252.3,187.7]},"axis":null},"y":{"datum":254.6,"type":"quantitative","scale":{"type":"log","domain":[10,27700],"nice":false},"axis":null},"text":{"field":"label"}}},
  {"data":{"values":[{"label":"b=50"}]},"mark":{"type":"text","angle":-14,"align":"right","baseline":"alphabetic","fontSize":15,"fontStyle":"italic","dx":-25.4},"encoding":{"x":{"datum":61220,"type":"quantitative","scale":{"type":"log","domain":[1000,239000],"nice":false,"range":[-252.3,187.7]},"axis":null},"y":{"datum":254.6,"type":"quantitative","scale":{"type":"log","domain":[10,27700],"nice":false},"axis":null},"text":{"field":"label"}}},
  {"data":{"values":[{"label":", ~"}]},"mark":{"type":"text","angle":-14,"align":"right","baseline":"alphabetic","fontSize":15,"dx":-8.3},"encoding":{"x":{"datum":61220,"type":"quantitative","scale":{"type":"log","domain":[1000,239000],"nice":false,"range":[-252.3,187.7]},"axis":null},"y":{"datum":254.6,"type":"quantitative","scale":{"type":"log","domain":[10,27700],"nice":false},"axis":null},"text":{"field":"label"}}},
  {"data":{"values":[{"label":"n"}]},"mark":{"type":"text","angle":-14,"align":"right","baseline":"alphabetic","fontSize":15,"fontStyle":"italic"},"encoding":{"x":{"datum":61220,"type":"quantitative","scale":{"type":"log","domain":[1000,239000],"nice":false,"range":[-252.3,187.7]},"axis":null},"y":{"datum":254.6,"type":"quantitative","scale":{"type":"log","domain":[10,27700],"nice":false},"axis":null},"text":{"field":"label"}}},
  {"data":{"values":[{"label":"1.0"}]},"mark":{"type":"text","angle":-14,"align":"left","baseline":"alphabetic","fontSize":11,"fontStyle":"italic","dx":0.5,"dy":-7},"encoding":{"x":{"datum":61220,"type":"quantitative","scale":{"type":"log","domain":[1000,239000],"nice":false,"range":[-252.3,187.7]},"axis":null},"y":{"datum":254.6,"type":"quantitative","scale":{"type":"log","domain":[10,27700],"nice":false},"axis":null},"text":{"field":"label"}}}
 ]
}
]
}
